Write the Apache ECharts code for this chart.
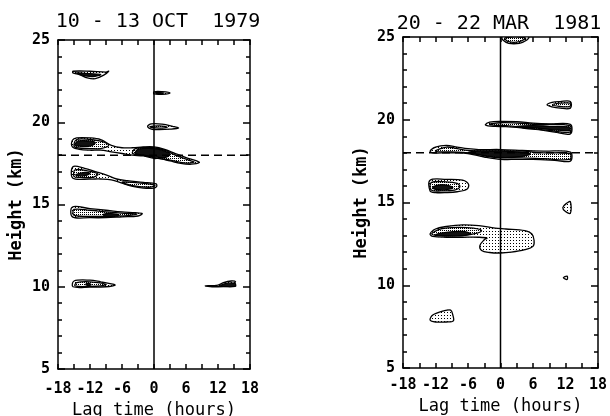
<!DOCTYPE html>
<html>
<head>
<meta charset="utf-8">
<script src="https://cdn.jsdelivr.net/npm/echarts@6/dist/echarts.min.js"></script>
<style>
  html, body { margin: 0; padding: 0; background: #fff; }
  #chart { width: 610px; height: 416px; }
</style>
</head>
<body>
<div id="chart"></div>
<script>
// panel titles
var panelTitles = ['10 - 13 OCT  1979', '20 - 22 MAR  1981'];
// axis ticks
var lagTicks = [-18, -12, -6, 0, 6, 12, 18];
var heightTicks = [5, 10, 15, 20, 25];
// reference lines
var tropopause = 18;
var zeroLag = 0;

// contours: [level, [[lag, height], ...]]  level 1 = outer, 2 = middle, 3 = core
var octContours = [
    [1, [[-15.2,23.1],[-12,23.1],[-9,23.05],[-8.5,23.1],[-9.5,22.85],[-11,22.65],[-12.5,22.7],[-14,22.9],[-15.2,23.0]]],
    [3, [[-14.5,23.0],[-12,22.95],[-10,22.9],[-11.5,22.78],[-13.5,22.86]]],
    [1, [[0,21.85],[1.5,21.86],[3,21.78],[1.5,21.7],[0,21.72]]],
    [3, [[0.3,21.8],[1.8,21.78],[0.5,21.74]]],
    [1, [[-1.2,19.75],[-0.5,19.9],[1.5,19.88],[3.5,19.75],[4.6,19.65],[3,19.58],[1,19.55],[-0.5,19.58]]],
    [2, [[-0.8,19.72],[1,19.78],[2.5,19.7],[1,19.64]]],
    [1, [[-15.3,18.9],[-14.5,19.05],[-12,19.05],[-10,18.95],[-8,18.6],[-6,18.45],[-4,18.45],[-2,18.5],[0,18.5],[2,18.35],[4,18.1],[6,17.85],[8,17.65],[8.5,17.55],[7,17.45],[5,17.5],[3,17.65],[1,17.8],[0,17.8],[-2,17.95],[-4,18.0],[-6,18.1],[-8,18.2],[-10,18.3],[-12,18.3],[-14,18.35],[-15.3,18.5]]],
    [2, [[-15,18.55],[-14.5,18.95],[-12,18.95],[-10,18.85],[-8.5,18.6],[-10,18.4],[-12,18.4],[-14.5,18.45]]],
    [3, [[-14.8,18.6],[-14.3,18.85],[-12,18.85],[-11,18.75],[-12,18.55],[-14,18.55]]],
    [2, [[-4,18.1],[-3.5,18.4],[0,18.45],[2,18.3],[4,18.0],[6.5,17.7],[7.5,17.58],[6,17.52],[3,17.7],[0,17.85],[-2,18.0]]],
    [3, [[-3.5,18.1],[-3,18.35],[0,18.4],[1.5,18.3],[3,18.05],[2,17.85],[0,17.9],[-2,18.0]]],
    [1, [[-15.2,17.3],[-13,17.2],[-11,17.0],[-9,16.8],[-7,16.55],[-5,16.45],[-2,16.35],[0.4,16.25],[0.5,16.1],[0,16.0],[-2,16.0],[-4,16.1],[-6,16.3],[-8,16.5],[-10,16.55],[-12,16.55],[-15.2,16.6]]],
    [2, [[-15,16.7],[-14.8,17.1],[-12.5,17.05],[-10.5,16.85],[-11.5,16.65],[-14,16.65]]],
    [3, [[-14.7,16.8],[-13,16.95],[-12,16.9],[-13,16.75]]],
    [2, [[-6,16.35],[-4,16.35],[-1,16.25],[0.2,16.15],[-1,16.05],[-4,16.15]]],
    [1, [[-15.3,14.85],[-12,14.75],[-9,14.65],[-6,14.55],[-3.5,14.5],[-2.2,14.45],[-3,14.3],[-6,14.25],[-9,14.2],[-12,14.2],[-15.3,14.25]]],
    [2, [[-15,14.35],[-15,14.7],[-12,14.65],[-9,14.55],[-5,14.45],[-3.2,14.42],[-5,14.32],[-9,14.28],[-12,14.28]]],
    [3, [[-9.5,14.4],[-8,14.45],[-6.5,14.35],[-8,14.28],[-9.2,14.3]]],
    [1, [[-15.2,10.0],[-15,10.35],[-12,10.4],[-10,10.3],[-8,10.18],[-7.3,10.1],[-9,10.0],[-12,9.98]]],
    [2, [[-14.8,10.05],[-14.5,10.25],[-12,10.3],[-9,10.15],[-10,10.05],[-12,10.02]]],
    [3, [[-12.8,10.15],[-12.2,10.2],[-11.8,10.12],[-12.4,10.08]]],
    [1, [[9.6,10.05],[12,10.1],[13,10.25],[14.5,10.35],[15.3,10.3],[14.8,10.15],[15.3,10.05],[12,10.0]]],
    [3, [[12.5,10.05],[13.5,10.2],[15.2,10.2],[15.2,10.02]]]
];

var marContours = [
    [1, [[0.3,25],[5.2,25],[4.8,24.8],[3.5,24.62],[1.5,24.62],[0.5,24.8]]],
    [2, [[0.8,24.95],[4.6,24.95],[3.5,24.72],[1.5,24.72]]],
    [1, [[8.6,20.9],[9.5,21.05],[11,21.1],[12.9,21.1],[12.9,20.7],[11,20.7],[9.5,20.78]]],
    [2, [[9.6,20.9],[11,21.0],[12.8,21.0],[12.8,20.8],[11,20.8]]],
    [1, [[-2.8,19.7],[-2,19.85],[0,19.9],[3,19.88],[6,19.8],[9,19.75],[12.9,19.72],[12.9,19.15],[10,19.25],[7,19.4],[4,19.5],[1,19.58],[-1,19.6],[-2.3,19.63]]],
    [2, [[-2,19.72],[0,19.82],[3,19.8],[7,19.72],[12.8,19.65],[12.8,19.25],[9,19.35],[5,19.5],[1,19.65],[-1,19.66]]],
    [3, [[3,19.6],[6,19.65],[9,19.6],[12.7,19.55],[12.7,19.35],[9,19.42],[6,19.52],[4,19.55]]],
    [1, [[-13,18.1],[-12,18.35],[-10,18.45],[-8,18.35],[-6,18.25],[-4,18.2],[0,18.2],[4,18.15],[8,18.1],[12.9,18.05],[12.9,17.5],[10,17.55],[6,17.6],[2,17.6],[0,17.6],[-3,17.75],[-6,17.95],[-8,18.0],[-10,18.0],[-12.5,18.0]]],
    [2, [[-12,18.1],[-10,18.35],[-8,18.25],[-6,18.15],[-3,18.12],[0,18.12],[4,18.1],[8,18.0],[12.8,17.95],[12.8,17.6],[8,17.65],[4,17.7],[0,17.7],[-3,17.82],[-6,18.0],[-9,18.05]]],
    [3, [[-6,18.02],[-4,18.1],[0,18.1],[3,18.05],[5.5,17.95],[4,17.78],[0,17.72],[-3,17.85]]],
    [1, [[-13,15.7],[-13,16.35],[-10,16.4],[-7,16.35],[-5.9,16.1],[-6.2,15.8],[-8,15.65],[-10,15.6],[-12,15.6]]],
    [2, [[-12.8,15.75],[-12.8,16.2],[-10,16.25],[-8,16.15],[-7.5,15.95],[-8.5,15.75],[-11,15.7]]],
    [3, [[-12.5,15.9],[-11.5,16.05],[-10,16.05],[-8.8,15.9],[-10,15.78],[-12,15.8]]],
    [1, [[12.9,15.05],[12.2,14.95],[11.5,14.7],[12,14.45],[12.9,14.35]]],
    [1, [[-13,13.1],[-12,13.4],[-10,13.55],[-7,13.65],[-4,13.6],[-1,13.45],[1,13.4],[4.5,13.3],[5.8,13.1],[6.2,12.7],[6.0,12.35],[4.5,12.15],[2,12.0],[0,11.95],[-2,11.98],[-3.5,12.1],[-3.8,12.4],[-3,12.75],[-2.5,12.85],[-4,12.9],[-7,12.9],[-10,12.9],[-12.5,12.95]]],
    [2, [[-12.7,13.1],[-11,13.4],[-8,13.5],[-5,13.45],[-3.5,13.3],[-5,13.1],[-8,12.98],[-11,12.98]]],
    [3, [[-12,13.05],[-10,13.2],[-7,13.25],[-5.5,13.12],[-7,13.0],[-10,13.0]]],
    [1, [[-13,7.9],[-12.5,8.2],[-10.5,8.45],[-9.2,8.5],[-8.8,8.2],[-8.7,7.85],[-10,7.78],[-12,7.78]]],
    [1, [[11.6,10.45],[12.3,10.55],[12.3,10.35]]]
];

// stipple patterns
function dots(step, size) {
    var c = document.createElement('canvas');
    c.width = step; c.height = step;
    var g = c.getContext('2d');
    g.fillStyle = '#fff';
    g.fillRect(0, 0, step, step);
    g.fillStyle = '#000';
    g.fillRect(0, 0, size, size);
    return { image: c, repeat: 'repeat' };
}
var fills = { 1: dots(3, 1), 2: dots(2, 1), 3: '#111' };

var font = 'DejaVu Sans Mono';
var chart = echarts.init(document.getElementById('chart'));

function contourSeries(contours, idx) {
    return {
        type: 'custom',
        xAxisIndex: idx,
        yAxisIndex: idx,
        clip: true,
        z: 2,
        data: contours.map(function (c) { return c[1][0]; }),
        renderItem: function (params, api) {
            var c = contours[params.dataIndex];
            var pts = c[1].map(function (p) { return api.coord(p); });
            return {
                type: 'polygon',
                shape: { points: pts, smooth: 0.35 },
                style: { fill: fills[c[0]], stroke: '#000', lineWidth: 1.3 }
            };
        }
    };
}

function refLines(idx) {
    return [
        {
            type: 'line', xAxisIndex: idx, yAxisIndex: idx, z: 3,
            symbol: 'none', silent: true,
            data: [[zeroLag, heightTicks[0]], [zeroLag, heightTicks[heightTicks.length - 1]]],
            lineStyle: { color: '#000', width: 1.5 }
        },
        {
            type: 'line', xAxisIndex: idx, yAxisIndex: idx, z: 3,
            symbol: 'none', silent: true,
            data: [[lagTicks[0], tropopause], [lagTicks[lagTicks.length - 1], tropopause]],
            lineStyle: { color: '#000', width: 1.5, type: [8, 5] }
        }
    ];
}

function xAxisFor(idx, top, margin, gap) {
    return {
        type: 'value', gridIndex: idx, position: top ? 'top' : 'bottom',
        min: lagTicks[0], max: lagTicks[lagTicks.length - 1], interval: 6,
        axisLine: { show: true, onZero: false, lineStyle: { color: '#000', width: 1.5 } },
        axisTick: { show: true, inside: true, length: 5, lineStyle: { color: '#000', width: 1.5 } },
        minorTick: { show: true, splitNumber: 2, length: 5, lineStyle: { color: '#000', width: 1.5 } },
        splitLine: { show: false },
        axisLabel: { show: !top, color: '#000', fontFamily: font, fontSize: 15, fontWeight: 'bold', margin: margin },
        name: top ? '' : 'Lag time (hours)',
        nameLocation: 'middle', nameGap: gap,
        nameTextStyle: { color: '#000', fontFamily: font, fontSize: 17 }
    };
}

function yAxisFor(idx, right) {
    return {
        type: 'value', gridIndex: idx, position: right ? 'right' : 'left',
        min: heightTicks[0], max: heightTicks[heightTicks.length - 1], interval: 5,
        axisLine: { show: true, onZero: false, lineStyle: { color: '#000', width: 1.5 } },
        axisTick: { show: true, inside: true, length: 7, lineStyle: { color: '#000', width: 1.5 } },
        minorTick: { show: true, splitNumber: 5, length: 4, lineStyle: { color: '#000', width: 1.5 } },
        splitLine: { show: false },
        axisLabel: { show: !right, color: '#000', fontFamily: font, fontSize: 15, fontWeight: 'bold', margin: 8 },
        name: right ? '' : 'Height (km)',
        nameLocation: 'middle', nameGap: 33,
        nameTextStyle: { color: '#000', fontFamily: font, fontSize: 17, fontWeight: 'bold' }
    };
}

var option = {
    backgroundColor: '#fff',
    animation: false,
    title: [
        { text: panelTitles[0], left: 153, top: 7, textAlign: 'center',
          textStyle: { color: '#000', fontFamily: font, fontSize: 20, fontWeight: 'normal' } },
        { text: panelTitles[1], left: 494, top: 9, textAlign: 'center',
          textStyle: { color: '#000', fontFamily: font, fontSize: 20, fontWeight: 'normal' } }
    ],
    grid: [
        { left: 58, right: 360, top: 40, bottom: 47, outerBoundsMode: 'none' },
        { left: 403, right: 12, top: 37, bottom: 48, outerBoundsMode: 'none' }
    ],
    xAxis: [xAxisFor(0, false, 13, 31), xAxisFor(1, false, 10, 30), xAxisFor(0, true), xAxisFor(1, true)],
    yAxis: [yAxisFor(0, false), yAxisFor(1, false), yAxisFor(0, true), yAxisFor(1, true)],
    series: [contourSeries(octContours, 0), contourSeries(marContours, 1)]
        .concat(refLines(0)).concat(refLines(1))
};

chart.setOption(option);
</script>
</body>
</html>
